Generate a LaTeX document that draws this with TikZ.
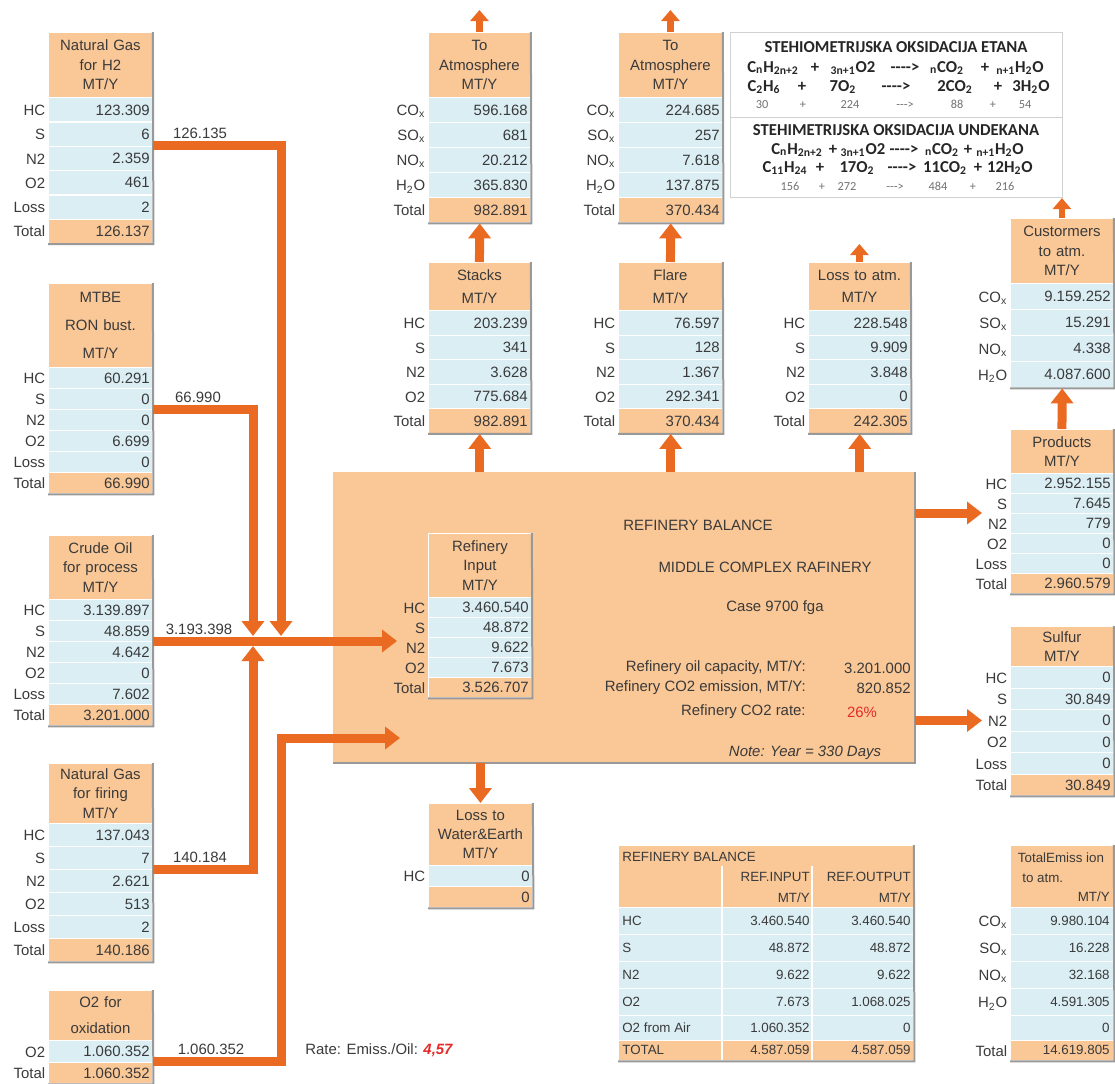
\documentclass[tikz,border=0pt]{standalone}
\usepackage{fontspec}
\setmainfont{Liberation Sans}
\newfontfamily\stfont{Carlito}
\usetikzlibrary{positioning,arrows.meta,calc}
\definecolor{hdrorange}{HTML}{FAC796}
\definecolor{cellblue}{HTML}{DAEEF4}
\definecolor{flowcol}{HTML}{EA6A22}
\definecolor{txtgrey}{HTML}{3A3A3A}
\definecolor{ratered}{HTML}{E42A2A}
\newcommand{\px}{0.02cm}
\newcommand{\tabfont}{\fontsize{8.5}{11}\selectfont}
\newcommand{\smallfont}{\fontsize{7.6}{9}\selectfont}

\tikzset{
  hdr/.style={fill=hdrorange, draw=white, line width=0.5pt, align=center, inner xsep=0.06cm, inner ysep=0pt, anchor=north west, font=\tabfont, text=txtgrey},
  vcell/.style={fill=cellblue, draw=white, line width=0.8pt, align=right, inner xsep=0.06cm, inner ysep=0pt, anchor=north west, font=\tabfont, text=txtgrey},
  tcell/.style={vcell, fill=hdrorange},
  rowlab/.style={anchor=east, inner sep=0.05cm, font=\tabfont, text=txtgrey, text height=1.5ex, text depth=0.3ex},
  tabshadow/.style={draw=black!40, line width=0.04cm},
  flow/.style={draw=flowcol, line width=0.18cm, -{Triangle[length=0.3cm,width=0.44cm]}},
  vent/.style={draw=flowcol, line width=0.13cm, -{Triangle[length=0.22cm,width=0.36cm]}},
  note/.style={font=\tabfont, text=txtgrey, inner sep=0pt},
  refbox/.style={fill=hdrorange, anchor=north west, inner sep=0pt},
  stoichbox/.style={draw=black!18, line width=0.6pt, fill=white, anchor=north west, inner sep=0pt},
  eqtok/.style={anchor=base, inner sep=0pt, text=black!85, font=\stfont\bfseries\fontsize{9.5}{11}\selectfont},
  eqnum/.style={anchor=base, inner sep=0pt, text=black!55, font=\stfont\fontsize{7}{8}\selectfont},
}

% name, x, y, width, header height, row height, title, rows
\newcommand{\datatab}[8]{%
  \pgfmathsetmacro\tabtw{(#4-6)*0.02}%
  \node[hdr, text width=\tabtw cm, minimum height={#5*\px}] (#1-h) at (#2,#3) {#7};
  \foreach \lab/\val/\sty [count=\i] in {#8} {
    \node[\sty, text width=\tabtw cm, minimum height={#6*\px}] (#1-\i) at ({#2},{#3+#5+(\i-1)*#6}) {\val};
    \node[rowlab] (#1-l\i) at (#1-\i.west) {\lab};
    \xdef\lastrow{\i}
  }
  \draw[tabshadow] (#1-h.north east) -- (#1-\lastrow.south east) -- (#1-\lastrow.south west);
}

% name, baseline y, style, tokens
\newcommand{\eqline}[4]{%
  \foreach \xx/\tok [count=\k] in {#4} {
    \node[#3] (#1-\k) at (\xx,#2) {\tok};
  }
}

\begin{document}
\begin{tikzpicture}[x=0.02cm, y=-0.02cm]
\useasboundingbox (0,0) rectangle (1115,1083);

% feed tables
\datatab{ngh2}{48}{32}{104}{65}{24.3}{Natural Gas\\for H2\\MT/Y}{HC/123.309/vcell, S/6/vcell, N2/2.359/vcell, O2/461/vcell, Loss/2/vcell, Total/126.137/tcell}
\datatab{mtbe}{48}{283}{104}{84}{21}{MTBE\\[5pt]RON bust.\\[5pt]MT/Y}{HC/60.291/vcell, S/0/vcell, N2/0/vcell, O2/6.699/vcell, Loss/0/vcell, Total/66.990/tcell}
\datatab{crude}{48}{535}{104}{64}{21}{Crude Oil\\for process\\MT/Y}{HC/3.139.897/vcell, S/48.859/vcell, N2/4.642/vcell, O2/0/vcell, Loss/7.602/vcell, Total/3.201.000/tcell}
\datatab{ngf}{48}{763}{104}{60}{23}{Natural Gas\\for firing\\MT/Y}{HC/137.043/vcell, S/7/vcell, N2/2.621/vcell, O2/513/vcell, Loss/2/vcell, Total/140.186/tcell}
\datatab{o2ox}{48}{990}{104}{50}{21.5}{O2 for\\[4pt]oxidation}{O2/1.060.352/vcell, Total/1.060.352/tcell}

% emission tables
\datatab{atm1}{428}{32}{102}{65}{25}{To\\Atmosphere\\MT/Y}{CO\textsubscript{x}/596.168/vcell, SO\textsubscript{x}/681/vcell, NO\textsubscript{x}/20.212/vcell, H\textsubscript{2}O/365.830/vcell, Total/982.891/tcell}
\datatab{atm2}{618}{32}{104}{65}{25}{To\\Atmosphere\\MT/Y}{CO\textsubscript{x}/224.685/vcell, SO\textsubscript{x}/257/vcell, NO\textsubscript{x}/7.618/vcell, H\textsubscript{2}O/137.875/vcell, Total/370.434/tcell}
\datatab{stacks}{428}{262}{102}{48}{24.5}{Stacks\\[2pt]MT/Y}{HC/203.239/vcell, S/341/vcell, N2/3.628/vcell, O2/775.684/vcell, Total/982.891/tcell}
\datatab{flare}{618}{262}{104}{48}{24.5}{Flare\\[2pt]MT/Y}{HC/76.597/vcell, S/128/vcell, N2/1.367/vcell, O2/292.341/vcell, Total/370.434/tcell}
\datatab{lossatm}{808}{262}{102}{48}{24.5}{Loss to atm.\\[2pt]MT/Y}{HC/228.548/vcell, S/9.909/vcell, N2/3.848/vcell, O2/0/vcell, Total/242.305/tcell}

% refinery
\node[refbox, minimum width=581*\px, minimum height=290*\px] (refbox) at (333,472) {};
\draw[tabshadow] (refbox.north east) -- (refbox.south east) -- (refbox.south west);
\datatab{refin}{428}{533}{103}{64}{20}{Refinery\\Input\\MT/Y}{HC/3.460.540/vcell, S/48.872/vcell, N2/9.622/vcell, O2/7.673/vcell, Total/3.526.707/tcell}
\node[note] (rb-title) at (698,525) {REFINERY BALANCE};
\node[note] (rb-sub) at (765,567) {MIDDLE COMPLEX RAFINERY};
\node[note] (rb-case) at (775,608) {Case 9700 fga};
\node[note, anchor=east] (rb-cap) at (806,668) {Refinery oil capacity, MT/Y:};
\node[note, anchor=east] (rb-capv) at (911,668) {3.201.000};
\node[note, anchor=east] (rb-em) at (806,688) {Refinery CO2 emission, MT/Y:};
\node[note, anchor=east] (rb-emv) at (911,688) {820.852};
\node[note, anchor=east] (rb-rate) at (806,712) {Refinery CO2 rate:};
\node[note, text=ratered] (rb-ratev) at (862,712) {26\%};
\node[note, font=\tabfont\itshape] (rb-note) at (805,753) {Note: Year = 330 Days};

\datatab{losswe}{428}{803}{104}{62}{21}{Loss to\\Water\&Earth\\MT/Y}{HC/0/vcell, /0/tcell}

% product tables
\datatab{cust}{1010}{218}{103}{65}{26}{Custormers\\to atm.\\MT/Y}{CO\textsubscript{x}/9.159.252/vcell, SO\textsubscript{x}/15.291/vcell, NO\textsubscript{x}/4.338/vcell, H\textsubscript{2}O/4.087.600/vcell}
\datatab{prod}{1010}{429}{103}{44}{20}{Products\\MT/Y}{HC/2.952.155/vcell, S/7.645/vcell, N2/779/vcell, O2/0/vcell, Loss/0/vcell, Total/2.960.579/tcell}
\datatab{sulf}{1010}{626}{103}{40}{21.5}{Sulfur\\MT/Y}{HC/0/vcell, S/30.849/vcell, N2/0/vcell, O2/0/vcell, Loss/0/vcell, Total/30.849/tcell}

% balance and total emission
\node[hdr, minimum width=295*\px, minimum height=62*\px] (bal-h) at (618,845) {};
\node[note, font=\smallfont, anchor=west] (bal-t) at (622,857) {REFINERY BALANCE};
\node[note, font=\smallfont, anchor=east] (bal-in) at (810,877) {REF.INPUT};
\node[note, font=\smallfont, anchor=east] (bal-inu) at (810,898) {MT/Y};
\node[note, font=\smallfont, anchor=east] (bal-out) at (911,877) {REF.OUTPUT};
\node[note, font=\smallfont, anchor=east] (bal-outu) at (911,898) {MT/Y};
\node[hdr, minimum width=103*\px, minimum height=62*\px] (tot-h) at (1010,845) {};
\node[note, font=\smallfont] (tot-t1) at (1061,858) {TotalEmiss ion};
\node[note, font=\smallfont, anchor=west] (tot-t2) at (1022,878) {to atm.};
\node[note, font=\smallfont, anchor=east] (tot-t3) at (1110,897) {MT/Y};
\foreach \ry/\rh/\lab/\va/\vb/\elab/\ev/\sty [count=\i] in {
  907/27/HC/3.460.540/3.460.540/CO\textsubscript{x}/9.980.104/vcell,
  934/27/S/48.872/48.872/SO\textsubscript{x}/16.228/vcell,
  961/27/N2/9.622/9.622/NO\textsubscript{x}/32.168/vcell,
  988/27/O2/7.673/1.068.025/H\textsubscript{2}O/4.591.305/vcell,
  1015/25/O2 from Air/1.060.352/0//0/vcell,
  1040/20/TOTAL/4.587.059/4.587.059/Total/14.619.805/tcell} {
  \node[\sty, minimum width=295*\px, minimum height=\rh*\px] (bal-\i) at (618,\ry) {};
  \node[note, font=\smallfont, anchor=west] (bal-l\i) at (622,{\ry+\rh/2}) {\lab};
  \node[note, font=\smallfont, anchor=east] (bal-a\i) at (810,{\ry+\rh/2}) {\va};
  \node[note, font=\smallfont, anchor=east] (bal-b\i) at (911,{\ry+\rh/2}) {\vb};
  \node[\sty, minimum width=103*\px, minimum height=\rh*\px] (tot-\i) at (1010,\ry) {};
  \node[rowlab] (tot-l\i) at (tot-\i.west) {\elab};
  \node[note, font=\smallfont, anchor=east] (tot-v\i) at (1110,{\ry+\rh/2}) {\ev};
}
\draw[white, line width=0.8pt] (722,866) -- (722,1060) (812,866) -- (812,1060);
\draw[tabshadow] (bal-h.north east) -- (bal-6.south east) -- (bal-6.south west);
\draw[tabshadow] (tot-h.north east) -- (tot-6.south east) -- (tot-6.south west);

% stoichiometry
\node[stoichbox, minimum width=332*\px, minimum height=85*\px] (stoich1) at (730,32) {};
\node[stoichbox, minimum width=332*\px, minimum height=80*\px] (stoich2) at (730,117) {};
\node[eqtok, anchor=center] (s1-t) at (896,47) {STEHIOMETRIJSKA OKSIDACIJA ETANA};
\eqline{s1a}{72}{eqtok}{773/C\textsubscript{n}H\textsubscript{2n+2}, 815/+, 853/\textsubscript{3n+1}O2, 905/-{}-{}-{}->, 947/\textsubscript{n}CO\textsubscript{2}, 985/+, 1020/\textsubscript{n+1}H\textsubscript{2}O}
\eqline{s1b}{91}{eqtok}{764/C\textsubscript{2}H\textsubscript{6}, 802/+, 843/7O\textsubscript{2}, 896/-{}-{}-{}->, 955/2CO\textsubscript{2}, 998/+, 1031/3H\textsubscript{2}O}
\eqline{s1c}{108}{eqnum}{762/30, 803/+, 850/224, 905/-{}-{}->, 957/88, 993/+, 1025/54}
\node[eqtok, anchor=center] (s2-t) at (896,130) {STEHIMETRIJSKA OKSIDACIJA UNDEKANA};
\eqline{s2a}{154}{eqtok}{797/C\textsubscript{n}H\textsubscript{2n+2}, 833/+, 863/\textsubscript{3n+1}O2, 904/-{}-{}-{}->, 942/\textsubscript{n}CO\textsubscript{2}, 968/+, 1000/\textsubscript{n+1}H\textsubscript{2}O}
\eqline{s2b}{172}{eqtok}{785/C\textsubscript{11}H\textsubscript{24}, 820/+, 857/17O\textsubscript{2}, 902/-{}-{}-{}->, 945/11CO\textsubscript{2}, 978/+, 1010/12H\textsubscript{2}O}
\eqline{s2c}{190}{eqnum}{790/156, 822/+, 847/272, 895/-{}-{}->, 938/484, 973/+, 1005/216}

% flows into the refinery
\coordinate (j1) at (281,636);
\coordinate (j2) at (253,636);
\coordinate (j3) at (253,646);
\coordinate (j4) at (281,738);
\coordinate (in1) at (397,641);
\coordinate (in2) at (400,738);
\draw[flow] (ngh2-3.north east) -| (j1);
\draw[flow] (mtbe-3.north east) -| (j2);
\draw[flow] (ngf-3.north east) -| (j3);
\draw[flow] (crude-3.north east) -- (in1);
\draw[flow] (o2ox-2.north east) -| (j4) -- (in2);
\node[note] (q-ngh2) at (200,133) {126.135};
\node[note] (q-mtbe) at (198,397) {66.990};
\node[note] (q-crude) at (199,629) {3.193.398};
\node[note] (q-ngf) at (200,857) {140.184};
\node[note] (q-o2) at (211,1049) {1.060.352};
\node[note, anchor=west] (rate) at (305,1050) {Rate: Emiss./Oil: \textcolor{ratered}{\bfseries\itshape 4,57}};

% flows out of the refinery
\draw[flow] (refbox.north -| stacks-5.south) -- (stacks-5.south);
\draw[flow] (refbox.north -| flare-5.south) -- (flare-5.south);
\draw[flow] (refbox.north -| lossatm-5.south) -- (lossatm-5.south);
\draw[flow] (stacks-h.north) -- (atm1-5.south);
\draw[flow] (flare-h.north) -- (atm2-5.south);
\draw[vent] (atm1-h.north) -- ++(0,-22) coordinate (atm1-vent);
\draw[vent] (atm2-h.north) -- ++(0,-22) coordinate (atm2-vent);
\draw[vent] (lossatm-h.north) -- ++(0,-18) coordinate (lossatm-vent);
\draw[flow] (refbox.south -| losswe-h.north) -- (losswe-h.north);
\draw[flow] (refbox.east |- prod-3.north) -- ([xshift=-0.56cm]prod-3.north west);
\draw[flow] (refbox.east |- sulf-3.west) -- ([xshift=-0.56cm]sulf-3.west);
\draw[flow] (prod-h.north) -- (cust-4.south);
\draw[vent] (cust-h.north) -- (cust-h.north |- stoich2.south);
\end{tikzpicture}
\end{document}
